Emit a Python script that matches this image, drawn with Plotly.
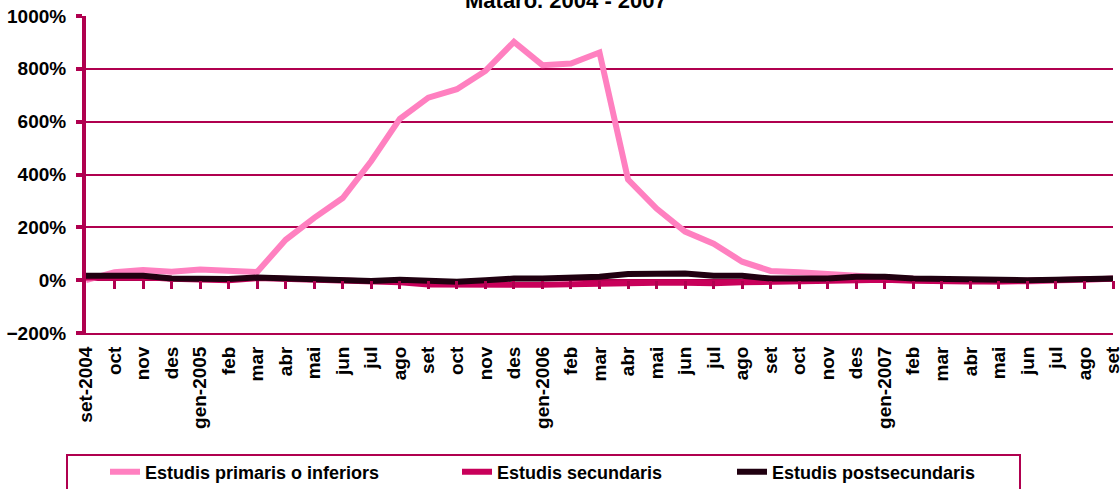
import plotly.graph_objects as go

months = ["set-2004", "oct", "nov", "des", "gen-2005", "feb", "mar", "abr", "mai", "jun", "jul", "ago",
          "set", "oct", "nov", "des", "gen-2006", "feb", "mar", "abr", "mai", "jun", "jul", "ago",
          "set", "oct", "nov", "des", "gen-2007", "feb", "mar", "abr", "mai", "jun", "jul", "ago", "set"]

primaris = [0, 30, 38, 32, 40, 35, 31, 153, 236, 311, 451, 611,
            691, 723, 792, 902, 814, 820, 862, 381, 271, 184, 138, 70,
            35, 30, 22, 15, 10, 5, 0, -5, -5, -5, 0, 5, 5]

secundaris = [10, 10, 12, 5, 0, 0, 8, 5, 0, -5, -8, -8,
              -16, -18, -17, -17, -17, -14, -13, -12, -10, -10, -12, -8,
              -6, 0, 0, 2, 2, -2, -5, -5, -5, -3, -2, 2, 5]

postsecundaris = [17, 19, 17, 6, 4, 4, 10, 6, 0, -3, -3, 2,
                  -3, -6, 0, 6, 6, 10, 13, 23, 25, 25, 17, 17,
                  6, 6, 6, 13, 13, 6, 4, 4, 0, 0, 2, 4, 6]

names = ["Estudis primaris o inferiors", "Estudis secundaris", "Estudis postsecundaris"]
colors = ["#FF80C0", "#C8005A", "#200010"]

AX = "#B0004F"
FONT = "Liberation Sans, Arial, sans-serif"

W, H = 1120, 489
L, R, T, B = 86, 7, 16, 156
pw = W - L - R
ph = H - T - B

def px_x(p):
    return (p - L) / pw

def px_y(p):
    return (H - B - p) / ph

idx = list(range(len(months)))

fig = go.Figure()
series = [primaris, secundaris, postsecundaris]
legs = ["legend", "legend2", "legend3"]
for s, n, c, lg in zip(series, names, colors, legs):
    fig.add_trace(go.Scatter(x=idx, y=s, mode="lines", name=n,
                             line=dict(color=c, width=6), legend=lg))

# dummy trace for tick-mark axis
fig.add_trace(go.Scatter(x=[0], y=[None], xaxis="x2", yaxis="y", showlegend=False,
                         hoverinfo="skip", mode="lines"))

ymin, ymax = -200, 1000
zero_pos = (0 - ymin) / (ymax - ymin)

leg_common = dict(orientation="h", yanchor="middle", xanchor="left",
                  font=dict(family=FONT, size=18, color="black", weight="bold"),
                  bgcolor="rgba(0,0,0,0)", borderwidth=0)

fig.update_layout(
    width=W, height=H,
    margin=dict(l=L, r=R, t=T, b=B, pad=0, autoexpand=False),
    paper_bgcolor="white", plot_bgcolor="white",
    font=dict(family=FONT, color="black"),
    xaxis=dict(range=[0, len(months) - 1], tickmode="array", tickvals=idx, ticktext=months,
               tickangle=-90, ticks="", showgrid=False, zeroline=False,
               showline=True, linecolor=AX, linewidth=2, automargin=False,
               ticklabeloverflow="allow",
               tickfont=dict(family=FONT, size=19, color="black", weight="bold"),
               ticklabelstandoff=4),
    xaxis2=dict(range=[0, len(months) - 1], overlaying="x", anchor="free", position=zero_pos,
                tickmode="array", tickvals=idx[1:], ticks="outside", ticklen=8, tickwidth=3,
                tickcolor=AX, showticklabels=False, showgrid=False, zeroline=False, showline=False),
    yaxis=dict(range=[ymin, ymax], dtick=200, ticksuffix="%", showgrid=True, gridcolor=AX,
               gridwidth=2, zeroline=False, showline=True, linecolor=AX, linewidth=4,
               ticks="outside", ticklen=6, tickwidth=4, tickcolor=AX, automargin=False,
               tickfont=dict(family=FONT, size=19, color="black", weight="bold"),
               ticklabelstandoff=6),
    legend=dict(x=px_x(105), y=px_y(472), **leg_common),
    legend2=dict(x=px_x(457), y=px_y(472), **leg_common),
    legend3=dict(x=px_x(732), y=px_y(472), **leg_common),
    showlegend=True,
)

fig.add_shape(type="rect", xref="paper", yref="paper",
              x0=px_x(67), x1=px_x(1020), y0=px_y(455), y1=px_y(500),
              line=dict(color=AX, width=2), fillcolor="rgba(0,0,0,0)")

fig.add_annotation(text="Mataró. 2004 - 2007", xref="paper", yref="paper",
                   x=px_x(566), y=px_y(0), xanchor="center", yanchor="middle",
                   yshift=0, showarrow=False,
                   font=dict(family=FONT, size=22, color="black", weight="bold"))

fig.write_html("out.html", config={"displayModeBar": False},
               post_script="document.body.style.margin='0';document.body.style.overflow='hidden';")
